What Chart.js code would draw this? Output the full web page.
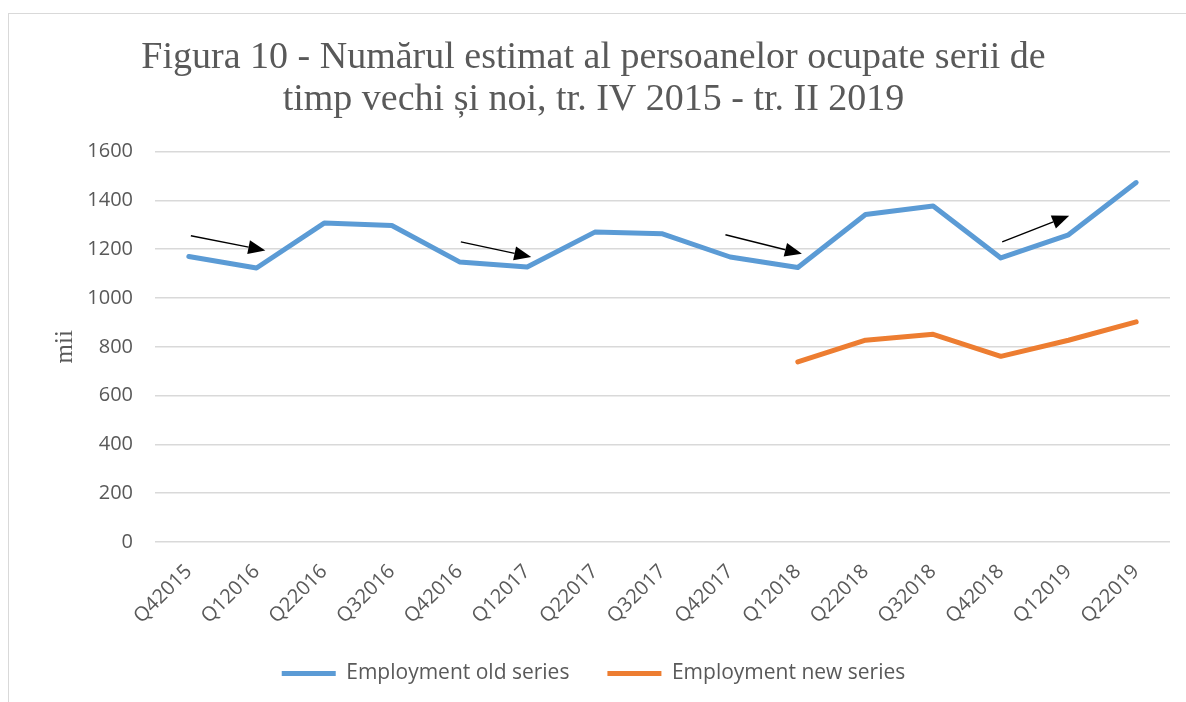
<!DOCTYPE html>
<html>
<head>
<meta charset="utf-8">
<script src="https://cdn.jsdelivr.net/npm/chart.js@4.4.1/dist/chart.umd.min.js"></script>
<style>
    html, body { margin: 0; padding: 0; background: #FFFFFF; overflow: hidden; }
    .frame {
        position: absolute;
        left: 8px;
        top: 13px;
        width: 1400px;
        height: 900px;
        border: 1.5px solid #D9D9D9;
    }
    .chart-wrap { position: absolute; left: 0; top: 0; width: 1186px; height: 702px; }
</style>
</head>
<body>
<div class="frame"></div>
<div class="chart-wrap"><canvas id="employmentChart"></canvas></div>
<script>
    // Quarters on the x axis
    const quarters = [
        'Q42015', 'Q12016', 'Q22016', 'Q32016', 'Q42016', 'Q12017', 'Q22017', 'Q32017',
        'Q42017', 'Q12018', 'Q22018', 'Q32018', 'Q42018', 'Q12019', 'Q22019',
    ];

    // Thousands of persons
    const oldSeries = [1170, 1123, 1307, 1297, 1148, 1127, 1270, 1263, 1168, 1125, 1342, 1377, 1164, 1259, 1473];
    const newSeries = [null, null, null, null, null, null, null, null, null, 738, 827, 851, 761, 827, 902];

    const yTicks = [0, 200, 400, 600, 800, 1000, 1200, 1400, 1600];

    // Annotation arrows: [fromIndex, fromValue, toIndex, toValue]
    const arrows = [
        [0.03, 1255, 1.13, 1195],
        [4.02, 1230, 5.06, 1168],
        [7.93, 1259, 9.06, 1181],
        [12.02, 1230, 13.01, 1337],
    ];

    const TEXT_GREY = '#595959';
    const GRID_GREY = '#D9D9D9';
    const SANS = "'Open Sans', sans-serif";
    const SERIF = "'Liberation Serif', 'Times New Roman', serif";

    const arrowPlugin = {
        id: 'arrowPlugin',
        afterDatasetsDraw(chart) {
            const {ctx, scales: {x, y}} = chart;
            ctx.save();
            ctx.strokeStyle = '#000000';
            ctx.fillStyle = '#000000';
            ctx.lineWidth = 1.4;

            arrows.forEach(function (a) {
                const x0 = x.getPixelForValue(a[0]);
                const y0 = y.getPixelForValue(a[1]);
                const x1 = x.getPixelForValue(a[2]);
                const y1 = y.getPixelForValue(a[3]);
                const angle = Math.atan2(y1 - y0, x1 - x0);
                const headLen = 17;
                const headHalf = 7;
                const bx = x1 - headLen * Math.cos(angle);
                const by = y1 - headLen * Math.sin(angle);

                ctx.beginPath();
                ctx.moveTo(x0, y0);
                ctx.lineTo(bx, by);
                ctx.stroke();

                ctx.beginPath();
                ctx.moveTo(x1, y1);
                ctx.lineTo(bx + headHalf * Math.sin(angle), by - headHalf * Math.cos(angle));
                ctx.lineTo(bx - headHalf * Math.sin(angle), by + headHalf * Math.cos(angle));
                ctx.closePath();
                ctx.fill();
            });

            ctx.restore();
        },
    };

    function lineDataset(label, data, color) {
        return {
            label,
            data,
            borderColor: color,
            backgroundColor: color,
            borderWidth: 5,
            borderCapStyle: 'round',
            borderJoinStyle: 'round',
            pointStyle: 'line',
            pointRadius: 0,
            pointHoverRadius: 0,
            tension: 0,
            spanGaps: false,
        };
    }

    new Chart(document.getElementById('employmentChart'), {
        type: 'line',
        data: {
            labels: quarters,
            datasets: [
                lineDataset('Employment old series', oldSeries, '#5B9BD5'),
                lineDataset('Employment new series', newSeries, '#ED7D31'),
            ],
        },
        options: {
            responsive: true,
            maintainAspectRatio: false,
            animation: false,
            layout: {
                padding: { left: 17, right: 16, top: 0, bottom: 8 },
            },
            plugins: {
                title: {
                    display: true,
                    text: [
                        'Figura 10 - Numărul estimat al persoanelor ocupate serii de',
                        'timp vechi și noi, tr. IV 2015 - tr. II 2019',
                    ],
                    color: TEXT_GREY,
                    font: { family: SERIF, size: 38, weight: 'normal', lineHeight: 1.1 },
                    padding: { top: 37, bottom: 31 },
                },
                legend: {
                    display: true,
                    position: 'bottom',
                    labels: {
                        color: TEXT_GREY,
                        usePointStyle: true,
                        pointStyleWidth: 54,
                        boxHeight: 6,
                        padding: 38,
                        font: { family: SANS, size: 21 },
                    },
                },
                tooltip: { enabled: false },
            },
            scales: {
                x: {
                    offset: true,
                    grid: { display: false },
                    border: { display: false },
                    ticks: {
                        color: TEXT_GREY,
                        font: { family: SANS, size: 20 },
                        minRotation: 45,
                        maxRotation: 45,
                        padding: 10,
                        autoSkip: false,
                    },
                    afterFit(scale) {
                        scale.height = 83;
                    },
                },
                y: {
                    min: 0,
                    max: 1600,
                    afterBuildTicks(scale) {
                        scale.ticks = yTicks.map(v => ({ value: v }));
                    },
                    grid: {
                        color: GRID_GREY,
                        lineWidth: 1.5,
                        drawTicks: false,
                    },
                    border: { display: false },
                    ticks: {
                        color: TEXT_GREY,
                        font: { family: SANS, size: 20 },
                        padding: 22,
                        callback: value => String(value),
                    },
                    title: {
                        display: true,
                        text: 'mii',
                        color: TEXT_GREY,
                        font: { family: SERIF, size: 25 },
                        padding: { top: 33 },
                    },
                    afterFit(scale) {
                        scale.width = 138;
                    },
                },
            },
        },
        plugins: [arrowPlugin],
    });
</script>
</body>
</html>
